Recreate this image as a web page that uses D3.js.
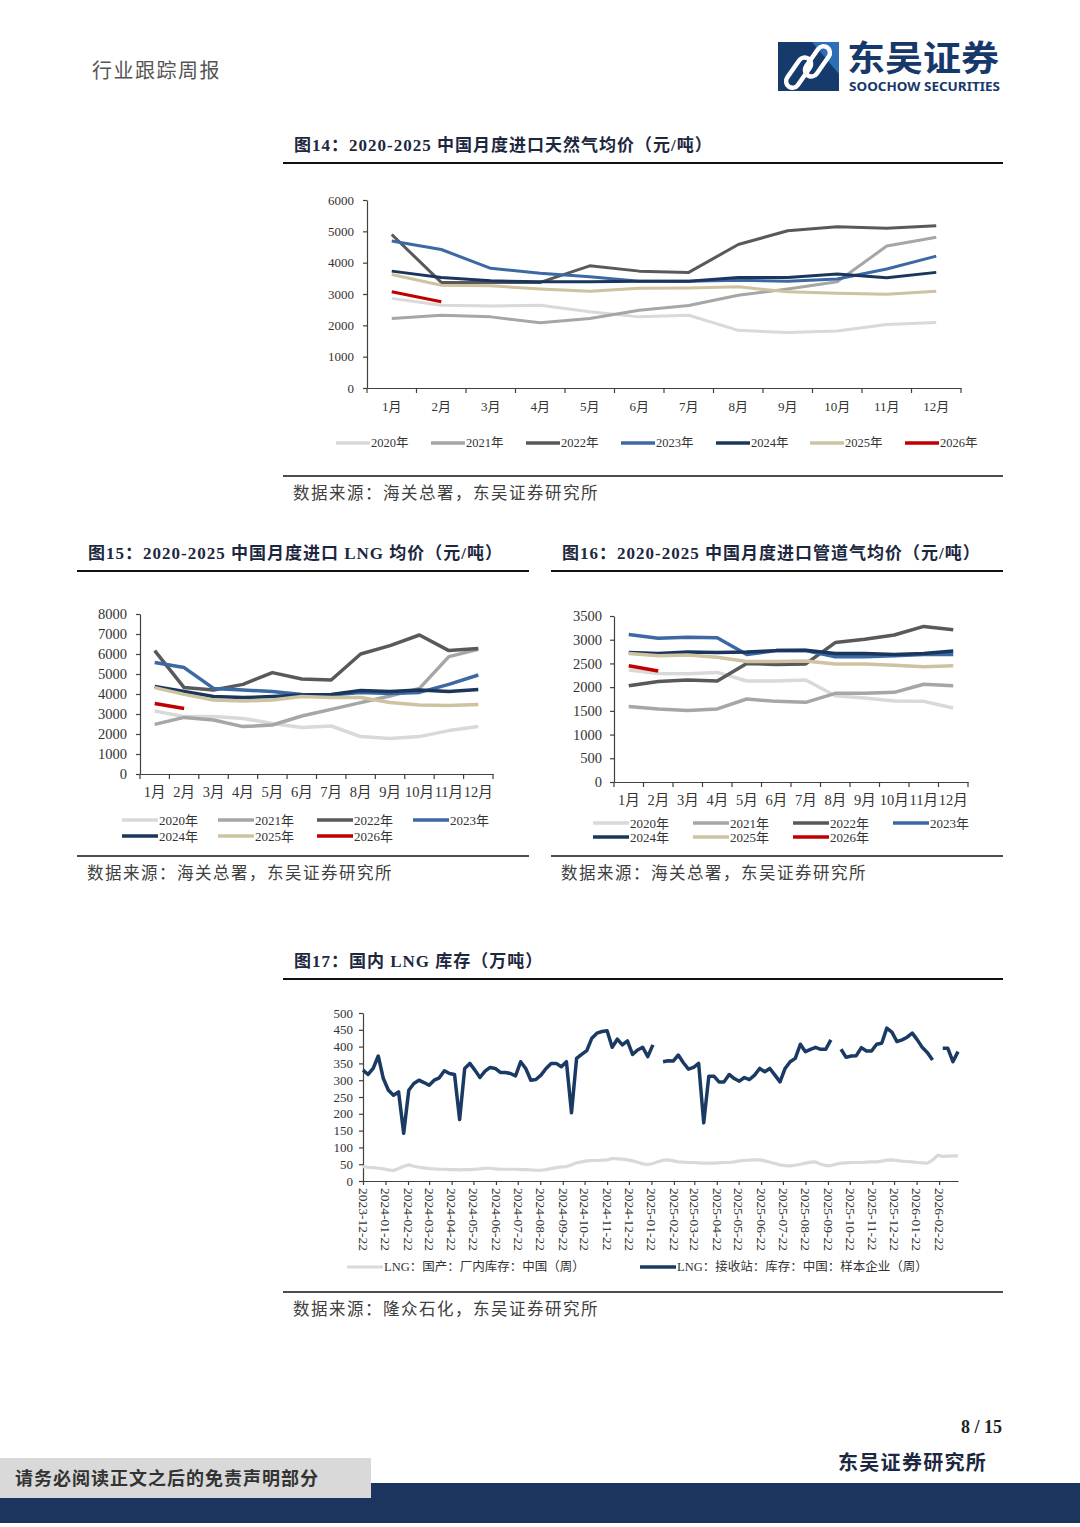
<!DOCTYPE html>
<html>
<head>
<meta charset="utf-8">
<script src="https://cdn.jsdelivr.net/npm/d3@7"></script>
<style>
  body { margin: 0; background: #fff; }
  svg { display: block; }
</style>
</head>
<body>
<svg id="page" width="1080" height="1527"></svg>
<script>
// ---- data ----
var months = ["1月","2月","3月","4月","5月","6月","7月","8月","9月","10月","11月","12月"];
var yearNames = ["2020年","2021年","2022年","2023年","2024年","2025年","2026年"];
var yearColors = ["#d9d9d9","#a6a6a6","#595959","#3c69a3","#1a365d","#cdc3a0","#c00000"];

// 图14 进口天然气均价 (元/吨), one row per year
var gasPrice = [
  [2860, 2640, 2620, 2640, 2430, 2270, 2320, 1840, 1770, 1820, 2030, 2090],
  [2220, 2320, 2270, 2080, 2220, 2480, 2630, 2960, 3160, 3390, 4530, 4810],
  [4900, 3370, 3370, 3370, 3900, 3730, 3690, 4580, 5020, 5150, 5100, 5180],
  [4690, 4420, 3820, 3660, 3550, 3410, 3410, 3440, 3410, 3480, 3800, 4210],
  [3730, 3530, 3420, 3390, 3390, 3410, 3410, 3530, 3530, 3640, 3520, 3690],
  [3620, 3280, 3260, 3160, 3090, 3180, 3190, 3230, 3070, 3020, 2990, 3090],
  [3070, 2750]
];
// 图15 进口 LNG 均价
var lngPrice = [
  [3150, 2870, 2870, 2780, 2530, 2320, 2400, 1870, 1780, 1870, 2170, 2370],
  [2480, 2830, 2700, 2370, 2450, 2900, 3230, 3570, 3900, 4280, 5870, 6230],
  [6170, 4320, 4200, 4480, 5070, 4750, 4700, 6000, 6420, 6950, 6170, 6280],
  [5570, 5320, 4280, 4200, 4120, 3980, 3950, 4080, 4030, 4080, 4480, 4950],
  [4370, 4120, 3870, 3820, 3870, 3950, 3980, 4170, 4120, 4200, 4120, 4230],
  [4320, 3980, 3700, 3650, 3700, 3870, 3830, 3820, 3580, 3450, 3420, 3480],
  [3530, 3280]
];
// 图16 进口管道气均价
var pipePrice = [
  [2360, 2290, 2280, 2310, 2130, 2130, 2150, 1820, 1770, 1710, 1700, 1560],
  [1590, 1540, 1510, 1540, 1750, 1700, 1680, 1870, 1870, 1890, 2060, 2030],
  [2030, 2120, 2150, 2130, 2500, 2480, 2490, 2940, 3010, 3100, 3280, 3210],
  [3110, 3030, 3050, 3040, 2690, 2770, 2770, 2640, 2640, 2660, 2690, 2690],
  [2730, 2710, 2740, 2730, 2740, 2770, 2780, 2710, 2710, 2690, 2710, 2760],
  [2710, 2660, 2680, 2630, 2540, 2540, 2550, 2490, 2490, 2460, 2430, 2450],
  [2450, 2340]
];

// 图17 国内LNG库存 (万吨), weekly from 2023-12-22
var stockStart = "2023-12-22";
var stockTickLabels = ["2023-12-22","2024-01-22","2024-02-22","2024-03-22","2024-04-22","2024-05-22",
  "2024-06-22","2024-07-22","2024-08-22","2024-09-22","2024-10-22","2024-11-22","2024-12-22",
  "2025-01-22","2025-02-22","2025-03-22","2025-04-22","2025-05-22","2025-06-22","2025-07-22",
  "2025-08-22","2025-09-22","2025-10-22","2025-11-22","2025-12-22","2026-01-22","2026-02-22"];
var stockNames = ["LNG：国产：厂内库存：中国（周）", "LNG：接收站：库存：中国：样本企业（周）"];
var factoryStock = [43, 41, 40, 38, 36, 33, 31, 37, 44, 48, 44, 41, 39, 37, 36, 35, 35, 34, 34, 33,
  34, 34, 35, 36, 38, 38, 36, 35, 35, 35, 35, 34, 34, 33, 32, 32, 34, 37, 40, 42,
  43, 48, 54, 57, 60, 61, 61, 62, 63, 67, 66, 65, 63, 60, 56, 51, 49, 52, 57, 62,
  63, 60, 57, 56, 55, 55, 54, 53, 53, 53, 54, 55, 55, 57, 60, 61, 62, 63, 63, 60,
  56, 52, 48, 46, 45, 47, 50, 53, 56, 57, 50, 46, 46, 50, 53, 54, 55, 55, 55, 56,
  57, 57, 59, 62, 63, 61, 59, 58, 57, 55, 54, 53, 62, 77, 73, 74, 75, 75];
var terminalStock = [330, 317, 335, 372, 305, 270, 255, 265, 142, 270, 290, 300, 293, 285, 300, 307,
  328, 320, 317, 183, 335, 350, 330, 308, 327, 338, 335, 323, 323, 320, 313, 355, 335, 300, 302,
  315, 335, 350, 350, 340, 355, 203, 365, 377, 388, 425, 440, 445, 447, 398, 422, 405, 417, 377,
  390, 398, 370, 405,
  null,
  355, 358, 357, 375, 352, 333, 338, 350, 173, 312, 312, 295, 295, 317, 305, 297, 308, 302, 315,
  335, 325, 335, 315, 295, 335, 355, 365, 407, 385, 392, 398, 392, 392, 420,
  null,
  392, 368, 372, 373, 397, 387, 387, 407, 410, 455, 443, 415, 420, 428, 440, 420, 397, 382, 360,
  null,
  395, 395, 355, 385];

var serif = '"Liberation Serif","Noto Sans CJK SC",serif';
var ink = "#333333";
var svg = d3.select("#page");

function addText(x, y, s, size, opt) {
  opt = opt || {};
  var t = svg.append("text")
    .attr("x", x).attr("y", y)
    .style("font-family", opt.font || serif)
    .style("font-size", size + "px")
    .style("fill", opt.fill || ink)
    .text(s);
  if (opt.bold) t.style("font-weight", "bold");
  if (opt.anchor) t.style("text-anchor", opt.anchor);
  if (opt.ls) t.style("letter-spacing", opt.ls + "px");
  return t;
}

// title, rules and source line round each figure
function figureFrame(x0, x1, ruleTop, ruleBottom, title, source) {
  addText(x0 + 11, ruleTop - 12, title, 17, { bold: true, fill: "#1d2740", ls: 1 });
  svg.append("line").attr("x1", x0).attr("x2", x1).attr("y1", ruleTop).attr("y2", ruleTop)
    .style("stroke", "#111").style("stroke-width", 2);
  svg.append("line").attr("x1", x0).attr("x2", x1).attr("y1", ruleBottom).attr("y2", ruleBottom)
    .style("stroke", "#111").style("stroke-width", 1.5);
  addText(x0 + 10, ruleBottom + 23, source, 16.5, { fill: "#404040", ls: 1.5 });
}

function styleAxis(g, size) {
  g.selectAll(".domain").style("stroke", "#404040").style("stroke-width", 1.2);
  g.selectAll(".tick line").style("stroke", "#404040").style("stroke-width", 1.2);
  g.selectAll("text").style("font-family", serif).style("font-size", size + "px").style("fill", ink);
}

// monthly price chart with one line per year
function drawMonthly(o) {
  var x = d3.scaleBand().domain(months).range([o.left, o.right]);
  var y = d3.scaleLinear().domain([0, o.max]).range([o.bottom, o.top]);

  var ya = svg.append("g")
    .attr("transform", "translate(" + o.left + ",0)")
    .call(d3.axisLeft(y).tickValues(d3.range(0, o.max + 1, o.step)).tickFormat(d3.format("d"))
      .tickSize(4).tickSizeOuter(0).tickPadding(o.yPad));
  styleAxis(ya, o.tickFont);

  var xa = svg.append("g")
    .attr("transform", "translate(0," + o.bottom + ")")
    .call(d3.axisBottom(x).tickSize(0).tickSizeOuter(0).tickPadding(o.xPad));
  styleAxis(xa, o.tickFont);
  // tick marks sit on the band edges
  xa.selectAll(".tick").append("line")
    .attr("x1", -x.bandwidth() / 2).attr("x2", -x.bandwidth() / 2)
    .attr("y1", 0).attr("y2", 5)
    .style("stroke", "#404040").style("stroke-width", 1.2);
  xa.append("line").attr("x1", o.right).attr("x2", o.right).attr("y1", 0).attr("y2", 5)
    .style("stroke", "#404040").style("stroke-width", 1.2);

  var line = d3.line()
    .x(function(d, i) { return x(months[i]) + x.bandwidth() / 2; })
    .y(function(d) { return y(d); });

  o.values.forEach(function(vals, k) {
    svg.append("path")
      .datum(vals)
      .attr("d", line)
      .style("fill", "none")
      .style("stroke", yearColors[k])
      .style("stroke-width", o.lineWidth)
      .style("stroke-linejoin", "round");
  });

  // legend
  o.legend.forEach(function(p, k) {
    svg.append("line").attr("x1", p[0]).attr("x2", p[0] + o.legLen).attr("y1", p[1]).attr("y2", p[1])
      .style("stroke", yearColors[k]).style("stroke-width", 3.5);
    addText(p[0] + o.legLen + 1, p[1], yearNames[k], o.legFont).attr("dy", "0.35em");
  });
}

// ---- page header ----
addText(92, 78, "行业跟踪周报", 20, { fill: "#555", ls: 1.5 });
svg.append("rect").attr("x", 778).attr("y", 42).attr("width", 61).attr("height", 49).style("fill", "#173a6c");
svg.append("path").attr("d", "M812,42 L839,42 L839,74 Z").style("fill", "#2c6fb6");
var logo = svg.append("g").attr("transform", "translate(808,67) rotate(-55)");
logo.append("rect").attr("x", -27).attr("y", -11).attr("width", 34).attr("height", 13).attr("rx", 6.5)
  .style("fill", "none").style("stroke", "#fff").style("stroke-width", 4.5);
logo.append("rect").attr("x", -7).attr("y", -2).attr("width", 34).attr("height", 13).attr("rx", 6.5)
  .style("fill", "none").style("stroke", "#fff").style("stroke-width", 4.5);
addText(847, 71, "东吴证券", 35, { bold: true, fill: "#17386b", font: '"Noto Sans CJK SC",sans-serif' })
  .attr("textLength", 152).attr("lengthAdjust", "spacingAndGlyphs");
addText(849, 91, "SOOCHOW SECURITIES", 11.5, { bold: true, fill: "#17386b", font: '"Noto Sans",sans-serif' })
  .attr("textLength", 151).attr("lengthAdjust", "spacingAndGlyphs");

// ---- 图14 ----
figureFrame(283, 1003, 163, 476, "图14：2020-2025 中国月度进口天然气均价（元/吨）", "数据来源：海关总署，东吴证券研究所");
drawMonthly({
  values: gasPrice, left: 367, right: 961, top: 200, bottom: 388, max: 6000, step: 1000,
  tickFont: 13, yPad: 9, xPad: 14, lineWidth: 3,
  legLen: 34, legFont: 12.5,
  legend: [[336, 443], [431, 443], [526, 443], [621, 443], [716, 443], [810, 443], [905, 443]]
});

// ---- 图15 ----
figureFrame(77, 529, 571, 856, "图15：2020-2025 中国月度进口 LNG 均价（元/吨）", "数据来源：海关总署，东吴证券研究所");
drawMonthly({
  values: lngPrice, left: 140, right: 493, top: 614, bottom: 774, max: 8000, step: 1000,
  tickFont: 14.5, yPad: 9, xPad: 13, lineWidth: 3.5,
  legLen: 36, legFont: 13,
  legend: [[122, 820], [218, 820], [317, 820], [413, 820], [122, 836], [218, 836], [317, 836]]
});

// ---- 图16 ----
figureFrame(551, 1003, 571, 856, "图16：2020-2025 中国月度进口管道气均价（元/吨）", "数据来源：海关总署，东吴证券研究所");
drawMonthly({
  values: pipePrice, left: 614, right: 968, top: 616, bottom: 782, max: 3500, step: 500,
  tickFont: 14.5, yPad: 8, xPad: 13, lineWidth: 3.5,
  legLen: 36, legFont: 13,
  legend: [[593, 823], [693, 823], [793, 823], [893, 823], [593, 837], [693, 837], [793, 837]]
});

// ---- 图17 ----
figureFrame(283, 1003, 979, 1292, "图17：国内 LNG 库存（万吨）", "数据来源：隆众石化，东吴证券研究所");
var parseDay = d3.timeParse("%Y-%m-%d");
var t0 = parseDay(stockStart);
var weeks = factoryStock.map(function(d, i) { return d3.timeDay.offset(t0, i * 7); });

var sx = d3.scaleTime().domain([t0, weeks[weeks.length - 1]]).range([363, 958]);
var sy = d3.scaleLinear().domain([0, 500]).range([1181, 1013]);

var sya = svg.append("g").attr("transform", "translate(363,0)")
  .call(d3.axisLeft(sy).tickValues(d3.range(0, 501, 50)).tickSize(4).tickSizeOuter(0).tickPadding(6));
styleAxis(sya, 13);

var sxa = svg.append("g").attr("transform", "translate(0,1181)")
  .call(d3.axisBottom(sx).tickValues(stockTickLabels.map(parseDay))
    .tickFormat(d3.timeFormat("%Y-%m-%d")).tickSize(4).tickSizeOuter(0));
styleAxis(sxa, 13.5);
sxa.selectAll(".tick text")
  .attr("transform", "rotate(90)")
  .attr("x", 7).attr("y", 0).attr("dy", "0.35em")
  .style("text-anchor", "start");

var stockLine = d3.line()
  .defined(function(d) { return d != null; })
  .x(function(d, i) { return sx(weeks[i]); })
  .y(function(d) { return sy(d); });

svg.append("path").datum(factoryStock).attr("d", stockLine)
  .style("fill", "none").style("stroke", "#d9d9d9").style("stroke-width", 3.2).style("stroke-linejoin", "round");
svg.append("path").datum(terminalStock).attr("d", stockLine)
  .style("fill", "none").style("stroke", "#1a3a63").style("stroke-width", 3.5).style("stroke-linejoin", "round");

svg.append("line").attr("x1", 347).attr("x2", 383).attr("y1", 1267).attr("y2", 1267)
  .style("stroke", "#d9d9d9").style("stroke-width", 3);
addText(384, 1267, stockNames[0], 12.5).attr("dy", "0.35em");
svg.append("line").attr("x1", 640).attr("x2", 676).attr("y1", 1267).attr("y2", 1267)
  .style("stroke", "#1a3a63").style("stroke-width", 3.5);
addText(677, 1267, stockNames[1], 12.5).attr("dy", "0.35em");

// ---- footer ----
addText(1002, 1433, "8 / 15", 18, { bold: true, anchor: "end", fill: "#222" });
addText(838, 1470, "东吴证券研究所", 20, { bold: true, fill: "#1d2740", ls: 1.3 });
svg.append("rect").attr("x", 0).attr("y", 1483).attr("width", 1080).attr("height", 40).style("fill", "#1c355e");
svg.append("rect").attr("x", 0).attr("y", 1458).attr("width", 371).attr("height", 40).style("fill", "#d9d9d9");
addText(15, 1485, "请务必阅读正文之后的免责声明部分", 18, { bold: true, fill: "#333", ls: 1 });
</script>
</body>
</html>
